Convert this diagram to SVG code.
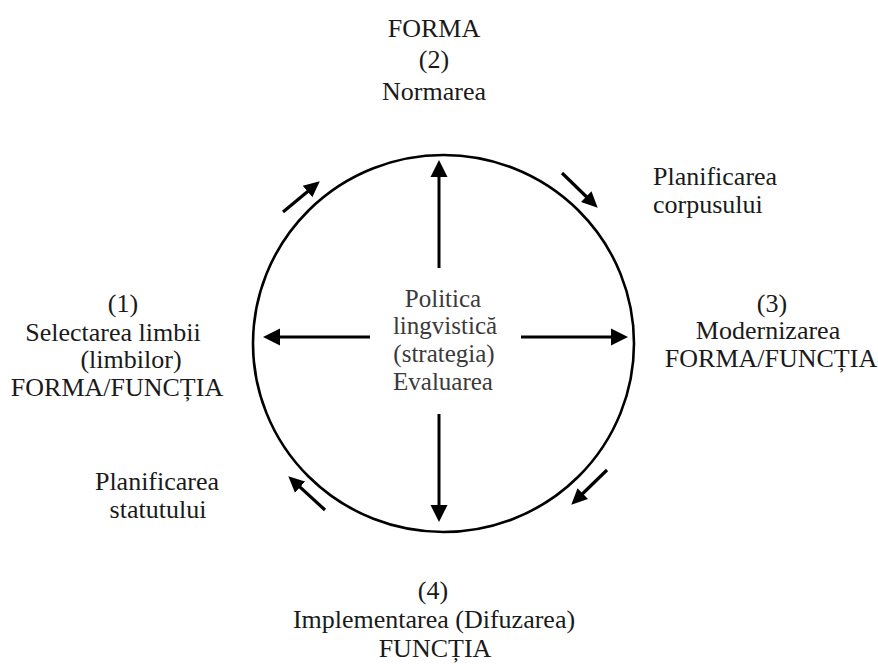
<svg xmlns="http://www.w3.org/2000/svg" width="878" height="664" viewBox="0 0 878 664">
<defs>
<style>
text{font-family:"Liberation Serif",Tinos,"Times New Roman",Times,"Noto Serif","DejaVu Serif",FreeSerif,Georgia,serif}
.t{font-size:26px;fill:#1a1a1a;text-anchor:middle}
.l{text-anchor:start}
.c{font-size:25px;fill:#3a3a3a}
.ln{stroke:#000;stroke-width:3;fill:none}
.sm{stroke:#000;stroke-width:3.2;fill:none}
</style>
<marker id="big" markerUnits="userSpaceOnUse" markerWidth="18" markerHeight="18" refX="11" refY="8.5" orient="auto" viewBox="0 0 18 17">
<path d="M0,0 L17,8.5 L0,17 z" fill="#000"/>
</marker>
<marker id="small" markerUnits="userSpaceOnUse" markerWidth="17" markerHeight="17" refX="10" refY="7.5" orient="auto" viewBox="0 0 17 15">
<path d="M0,0 L16,7.5 L0,15 z" fill="#000"/>
</marker>
</defs>
<rect width="878" height="664" fill="#fff"/>
<g id="circle">
<ellipse cx="443.5" cy="343.5" rx="190.5" ry="188.5" fill="none" stroke="#000" stroke-width="2.6"/>
</g>
<g id="connectors">
<line class="ln" x1="439" y1="268" x2="439" y2="166" marker-end="url(#big)"/>
<line class="ln" x1="439" y1="414" x2="439" y2="516" marker-end="url(#big)"/>
<line class="ln" x1="370" y1="337" x2="269" y2="337" marker-end="url(#big)"/>
<line class="ln" x1="521" y1="337" x2="622" y2="337" marker-end="url(#big)"/>
<line class="sm" x1="283" y1="212" x2="315.2" y2="185.2" marker-end="url(#small)"/>
<line class="sm" x1="562" y1="173" x2="593.4" y2="203.5" marker-end="url(#small)"/>
<line class="sm" x1="325" y1="510" x2="292.7" y2="480.4" marker-end="url(#small)"/>
<line class="sm" x1="607" y1="470" x2="575.6" y2="500.5" marker-end="url(#small)"/>
</g>
<g id="node-center">
<text class="t c" x="443" y="307">Politica</text>
<text class="t c" x="445" y="334">lingvistică</text>
<text class="t c" x="444" y="362">(strategia)</text>
<text class="t c" x="443" y="390">Evaluarea</text>
</g>
<g id="node-2">
<text class="t" x="434" y="37">FORMA</text>
<text class="t" x="434" y="68">(2)</text>
<text class="t" x="434" y="100">Normarea</text>
</g>
<g id="node-corpus">
<text class="t l" x="653" y="185">Planificarea</text>
<text class="t l" x="653" y="213">corpusului</text>
</g>
<g id="node-3">
<text class="t" x="772" y="312">(3)</text>
<text class="t" x="768" y="339">Modernizarea</text>
<text class="t" x="771" y="367">FORMA/FUNCȚIA</text>
</g>
<g id="node-1">
<text class="t" x="123" y="312">(1)</text>
<text class="t" x="113" y="341">Selectarea limbii</text>
<text class="t" x="131" y="368">(limbilor)</text>
<text class="t" x="117" y="396">FORMA/FUNCȚIA</text>
</g>
<g id="node-statut">
<text class="t" x="157" y="490">Planificarea</text>
<text class="t" x="158" y="518">statutului</text>
</g>
<g id="node-4">
<text class="t" x="433" y="599">(4)</text>
<text class="t" x="434" y="628">Implementarea (Difuzarea)</text>
<text class="t" x="435" y="657">FUNCȚIA</text>
</g>
</svg>
